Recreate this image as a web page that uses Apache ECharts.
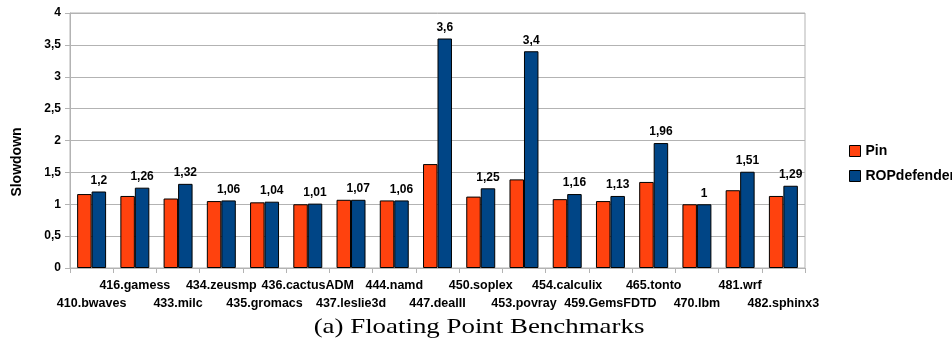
<!DOCTYPE html>
<html>
<head>
<meta charset="utf-8">
<script src="https://cdn.jsdelivr.net/npm/echarts@6/dist/echarts.min.js"></script>
<style>html,body{margin:0;padding:0;background:#fff;}#c{width:952px;height:349px;}</style>
</head>
<body>
<div id="c"></div>
<script>
var categories = ['410.bwaves','416.gamess','433.milc','434.zeusmp','435.gromacs','436.cactusADM','437.leslie3d','444.namd','447.dealII','450.soplex','453.povray','454.calculix','459.GemsFDTD','465.tonto','470.lbm','481.wrf','482.sphinx3'];
var pinValues = [1.16,1.13,1.09,1.05,1.03,1.0,1.07,1.06,1.63,1.12,1.39,1.08,1.05,1.35,1.0,1.22,1.13];
var ropValues = [1.2,1.26,1.32,1.06,1.04,1.01,1.07,1.06,3.6,1.25,3.4,1.16,1.13,1.96,1,1.51,1.29];
var yTicks = [0,0.5,1,1.5,2,2.5,3,3.5,4];

function comma(v){ return String(v).replace('.', ','); }
var FONT = 'Liberation Sans';
var chart = echarts.init(document.getElementById('c'), null, {renderer:'canvas'});
chart.setOption({
  animation:false,
  backgroundColor:'#fff',
  textStyle:{fontFamily:FONT},
  grid:{left:70,right:147,top:13,bottom:81,show:true,borderColor:'#b3b3b3',borderWidth:1,containLabel:false},
  legend:{
    orient:'vertical', left:844, top:139, itemWidth:11, itemHeight:11, itemGap:11,
    icon:'rect',
    itemStyle:{borderColor:'#000',borderWidth:1},
    textStyle:{fontFamily:FONT,fontWeight:'bold',fontSize:14,color:'#000'},
    data:['Pin','ROPdefender']
  },
  xAxis:{
    type:'category', data:categories,
    axisLine:{show:true,lineStyle:{color:'#b3b3b3',width:1}},
    axisTick:{show:true,length:5,alignWithLabel:false,interval:0,lineStyle:{color:'#b3b3b3'}},
    axisLabel:{
      interval:0, margin:9, fontFamily:FONT, fontWeight:'bold', fontSize:12.5, color:'#000', lineHeight:17.5,
      formatter:function(v,i){ return i%2===0 ? '\n'+v : v; }
    },
    splitLine:{show:false}
  },
  yAxis:{
    type:'value', min:yTicks[0], max:yTicks[yTicks.length-1], interval:yTicks[1]-yTicks[0],
    axisLine:{show:true,lineStyle:{color:'#b3b3b3',width:1}},
    axisTick:{show:true,length:5,lineStyle:{color:'#b3b3b3'}},
    axisLabel:{margin:9,fontFamily:FONT,fontWeight:'bold',fontSize:12,color:'#000',
      formatter:function(v){ return comma(v); }},
    splitLine:{show:true,lineStyle:{color:'#b3b3b3',width:1}}
  },
  series:[
    {name:'Pin', type:'bar', data:pinValues, barGap:'0%', barCategoryGap:'33%',
      itemStyle:{color:'#ff420e',borderColor:'#000',borderWidth:1}},
    {name:'ROPdefender', type:'bar', data:ropValues, barGap:'0%', barCategoryGap:'33%',
      itemStyle:{color:'#004586',borderColor:'#000',borderWidth:1},
      label:{show:true,position:'top',distance:5,fontFamily:FONT,fontWeight:'bold',fontSize:12,color:'#000',
        formatter:function(p){ return comma(p.value); }}}
  ],
  graphic:[
    {type:'text', x:17, y:162, rotation:Math.PI/2,
      style:{text:'Slowdown', fill:'#000', font:'bold 14px "Liberation Sans"', align:'center', verticalAlign:'middle'}},
    {type:'text', x:479, y:327, scaleX:1.28,
      style:{text:'(a) Floating Point Benchmarks', fill:'#000', font:'21px "Liberation Serif"', align:'center', verticalAlign:'middle'}}
  ]
});
</script>
</body>
</html>
